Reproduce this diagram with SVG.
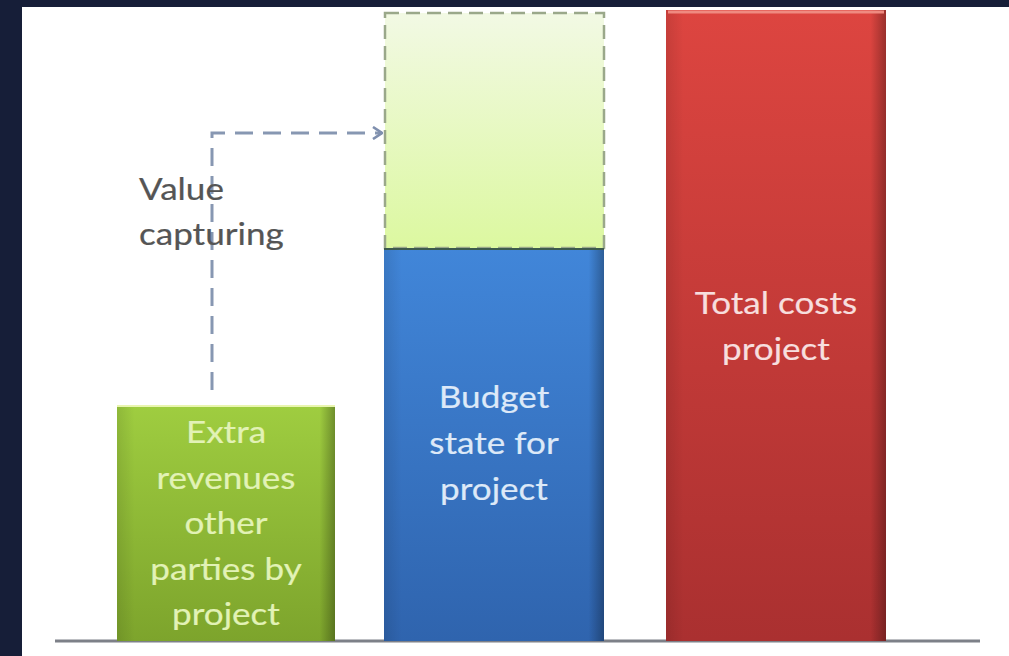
<svg xmlns="http://www.w3.org/2000/svg" width="1009" height="656" viewBox="0 0 1009 656">
  <defs>
    <linearGradient id="gGreen" x1="0" y1="0" x2="0" y2="1">
      <stop offset="0" stop-color="#9fcd40"/>
      <stop offset="1" stop-color="#7da42c"/>
    </linearGradient>
    <linearGradient id="gBlue" x1="0" y1="0" x2="0" y2="1">
      <stop offset="0" stop-color="#4186d9"/>
      <stop offset="1" stop-color="#2f64ae"/>
    </linearGradient>
    <linearGradient id="gRed" x1="0" y1="0" x2="0" y2="1">
      <stop offset="0" stop-color="#dd4540"/>
      <stop offset="1" stop-color="#aa3030"/>
    </linearGradient>
    <linearGradient id="gPale" x1="0" y1="0" x2="0" y2="1">
      <stop offset="0" stop-color="#f2f9e4"/>
      <stop offset="1" stop-color="#dcf8a0"/>
    </linearGradient>
    <!-- soft bevel on the bar sides -->
    <linearGradient id="gEdge" x1="0" y1="0" x2="1" y2="0">
      <stop offset="0" stop-color="#000" stop-opacity="0.1"/>
      <stop offset="0.08" stop-color="#000" stop-opacity="0"/>
      <stop offset="0.93" stop-color="#000" stop-opacity="0"/>
      <stop offset="1" stop-color="#000" stop-opacity="0.3"/>
    </linearGradient>
    <marker id="chev" viewBox="0 0 12 14" refX="11" refY="7" markerWidth="12" markerHeight="14" markerUnits="userSpaceOnUse" orient="auto">
      <path d="M2,1 L11,7 L2,13" fill="none" stroke="#7f8fae" stroke-width="2.6"/>
    </marker>
    <style>
      .lbl { font-family: "Lato", "Liberation Sans", sans-serif; font-size: 30px; text-anchor: middle; stroke-width: 0.2; }
      .g { fill: #e2f2b6; stroke: #e2f2b6; }
      .b { fill: #dde9f8; stroke: #dde9f8; }
      .r { fill: #f7dede; stroke: #f7dede; }
      .note { font-family: "Lato", "Liberation Sans", sans-serif; font-size: 30px; fill: #555; stroke: #555; stroke-width: 0.2; }
      .dash { fill: none; stroke: #8797b2; stroke-width: 3; stroke-dasharray: 18 10; }
    </style>
  </defs>

  <!-- frame -->
  <rect x="0" y="0" width="1009" height="656" fill="#161e38"/>
  <rect x="22" y="7" width="987" height="649" fill="#ffffff"/>

  <!-- baseline -->
  <line x1="55" y1="641" x2="980" y2="641" stroke="#7d8088" stroke-width="3"/>

  <g id="extra-revenues">
    <rect x="117" y="405" width="218" height="236" fill="url(#gGreen)"/>
    <rect x="117" y="405" width="218" height="236" fill="url(#gEdge)"/>
    <line x1="117" y1="406" x2="335" y2="406" stroke="#e9f5b0" stroke-width="2"/>
    <text class="lbl g" transform="translate(226,443) scale(1.17,1)">Extra</text>
    <text class="lbl g" transform="translate(226,488.5) scale(1.17,1)">revenues</text>
    <text class="lbl g" transform="translate(226,534) scale(1.17,1)">other</text>
    <text class="lbl g" transform="translate(226,579.5) scale(1.17,1)">parties by</text>
    <text class="lbl g" transform="translate(226,625) scale(1.17,1)">project</text>
  </g>

  <g id="captured-value">
    <rect x="385" y="13" width="219" height="235" fill="url(#gPale)" stroke="#9aa88a" stroke-width="2.5" stroke-dasharray="14 7"/>
  </g>

  <g id="budget-state">
    <rect x="384" y="248" width="220" height="393" fill="url(#gBlue)"/>
    <rect x="384" y="248" width="220" height="393" fill="url(#gEdge)"/>
    <line x1="384" y1="249" x2="604" y2="249" stroke="#3d5a4e" stroke-width="2"/>
    <text class="lbl b" transform="translate(494,408) scale(1.17,1)">Budget</text>
    <text class="lbl b" transform="translate(494,454) scale(1.17,1)">state for</text>
    <text class="lbl b" transform="translate(494,500) scale(1.17,1)">project</text>
  </g>

  <g id="total-costs">
    <rect x="666" y="10" width="220" height="631" fill="url(#gRed)"/>
    <rect x="666" y="10" width="220" height="631" fill="url(#gEdge)"/>
    <line x1="668" y1="12" x2="884" y2="12" stroke="#ef8a80" stroke-width="3"/>
    <text class="lbl r" transform="translate(776,314) scale(1.17,1)">Total costs</text>
    <text class="lbl r" transform="translate(776,360) scale(1.17,1)">project</text>
  </g>

  <g id="connectors">
    <path class="dash" d="M212,390 V133 H382" marker-end="url(#chev)"/>
  </g>

  <g id="value-capturing">
    <text class="note" transform="translate(139,200) scale(1.17,1)">Value</text>
    <text class="note" transform="translate(139,245) scale(1.17,1)">capturing</text>
  </g>
</svg>
